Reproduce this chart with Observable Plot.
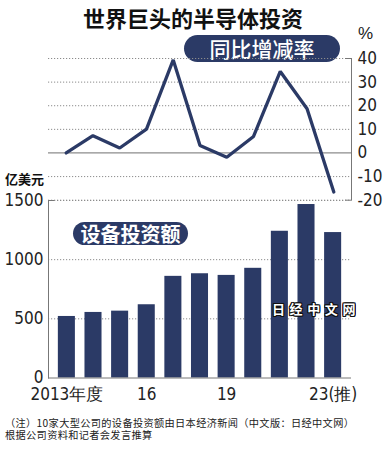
<!DOCTYPE html>
<html><head><meta charset="utf-8">
<script src="https://cdn.jsdelivr.net/npm/d3@7"></script>
<script src="https://cdn.jsdelivr.net/npm/@observablehq/plot@0.6"></script>
<style>
html,body{margin:0;padding:0;background:#fff;}
#wrap{position:relative;width:386px;height:450px;overflow:hidden;}
.abs{position:absolute;white-space:nowrap;}
.cjk{font-family:"Noto Sans CJK SC",sans-serif;}
#title{left:0;width:386px;top:4px;text-align:center;font-weight:700;font-size:22px;line-height:26px;color:#111;}
.badge{background:#2b3a66;color:#fff;text-align:center;}
#b1{left:184px;top:35px;width:156px;height:27px;border-radius:13.5px;font-size:21px;line-height:27px;font-weight:500;}
#b2{left:73px;top:222px;width:115px;height:23px;border-radius:11.5px;font-size:20px;line-height:23px;font-weight:700;}
#unit{left:5px;top:171px;font-size:13px;line-height:16px;font-weight:700;color:#111;}
#pct{left:358px;top:24px;font-family:"Liberation Sans",Arial,sans-serif;font-size:17px;color:#222;}
#wm{left:272px;top:301px;font-size:13px;line-height:16px;font-weight:700;letter-spacing:4.6px;color:#fff;
 text-shadow:1px 0 0 #111,-1px 0 0 #111,0 1px 0 #111,0 -1px 0 #111,1px 1px 0 #111,-1px -1px 0 #111,1px -1px 0 #111,-1px 1px 0 #111;}
.note{left:5px;font-size:10.2px;letter-spacing:0.35px;line-height:11px;height:11px;color:#222;}
#n1{top:417px;}
#n2{top:428.5px;}
svg{position:absolute;left:0;}
</style>
</head><body>
<div id="wrap">
  <div id="title" class="abs cjk">世界巨头的半导体投资</div>
  <div id="pct" class="abs">%</div>
  <div id="b1" class="abs cjk badge">同比增减率</div>
  <div id="unit" class="abs cjk">亿美元</div>
  <div id="n1" class="abs cjk note">（注）10家大型公司的设备投资额由日本经济新闻（中文版：日经中文网）</div>
  <div id="n2" class="abs cjk note">根据公司资料和记者会发言推算</div>
</div>
<script>
const years = ["2013","2014","2015","2016","2017","2018","2019","2020","2021","2022","2023"];
const capex = [520, 554, 565, 619, 859, 881, 867, 927, 1240, 1466, 1229];
const yoy = [0, 7.3, 2.1, 10.1, 39.4, 3.2, -1.8, 7.0, 34.5, 18.7, -16.5];
const topTicks = [40, 30, 20, 10, 0, -10, -20];
const bottomTicks = [0, 500, 1000, 1500];
const xTickYears = ["2013", "2016", "2019", "2023"];
const xTickText = ["2013年度", "16", "19", "23(推)"];

const navy = "#2b3a66";
const numFont = '"Liberation Sans Narrow","DejaVu Sans Condensed","Liberation Sans",Arial,sans-serif';
const data = years.map((y, i) => ({year: y, capex: capex[i], yoy: yoy[i]}));
const xLabel = new Map(xTickYears.map((y, i) => [y, xTickText[i]]));

const wrap = document.getElementById("wrap");

const topPlot = Plot.plot({
  width: 386, height: 210,
  marginLeft: 48, marginRight: 35, marginTop: 58, marginBottom: 10.3,
  x: {type: "point", domain: years, padding: 0.661, round: false, axis: null, label: null},
  y: {domain: [-20, 40], axis: null, label: null},
  style: {background: "transparent", overflow: "visible", fontSize: "17px", fontFamily: numFont, color: "#222"},
  marks: [
    Plot.ruleY(topTicks.filter(d => d !== 0), {stroke: "#8c8c8c", strokeDasharray: "1.2,1.8"}),
    Plot.ruleY([0], {stroke: "#8c8c8c", strokeWidth: 1.3}),
    Plot.ruleY([40, -20], {stroke: "#777", insetLeft: 297}),
    Plot.frame({anchor: "right", stroke: "#777"}),
    Plot.axisY({anchor: "right", ticks: topTicks, tickSize: 0, tickPadding: 6, label: null, tickFormat: d => String(d)}),
    Plot.line(data, {x: "year", y: "yoy", stroke: navy, strokeWidth: 3.3, strokeLinejoin: "miter"})
  ]
});
topPlot.style.top = "0px";
wrap.appendChild(topPlot);

const botPlot = Plot.plot({
  width: 386, height: 222,
  marginLeft: 48, marginRight: 35, marginTop: 10, marginBottom: 34.5,
  x: {type: "band", domain: years, paddingInner: 0.36, paddingOuter: 0.37, round: false, label: null},
  y: {domain: [0, 1500], label: null},
  style: {background: "transparent", overflow: "visible", fontSize: "17px", fontFamily: numFont, color: "#222"},
  marks: [
    Plot.ruleY([500, 1000, 1500], {stroke: "#8c8c8c", strokeDasharray: "1.2,1.8"}),
    Plot.barY(data, {x: "year", y: "capex", fill: navy}),
    Plot.ruleY([0], {stroke: "#777"}),
    Plot.frame({anchor: "left", stroke: "#777"}),
    Plot.ruleY([1500], {stroke: "#777", insetRight: 297}),
    Plot.axisY({ticks: bottomTicks, tickSize: 0, tickPadding: 5, label: null, tickFormat: d => String(d)}),
    Plot.axisX({ticks: xTickYears, tickSize: 0, tickPadding: 10, label: null, tickFormat: d => xLabel.get(d)})
  ]
});
botPlot.style.top = "190px";
wrap.appendChild(botPlot);

const b2 = document.createElement("div");
b2.id = "b2"; b2.className = "abs cjk badge"; b2.textContent = "设备投资额";
wrap.appendChild(b2);
const wm = document.createElement("div");
wm.id = "wm"; wm.className = "abs cjk"; wm.textContent = "日经中文网";
wrap.appendChild(wm);
</script>
</body></html>
